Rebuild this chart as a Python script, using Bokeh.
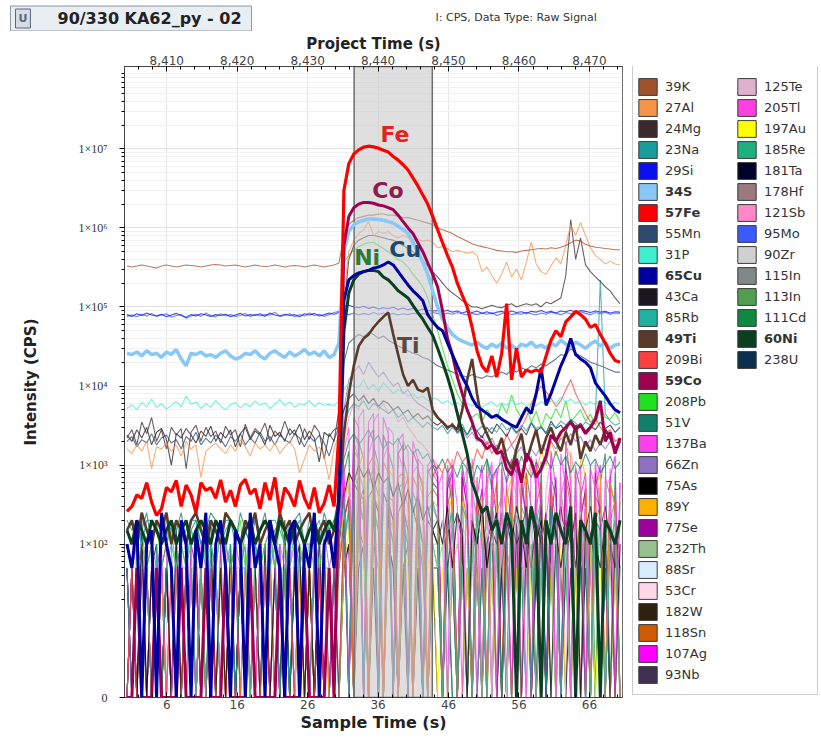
from bokeh.plotting import figure
from bokeh.layouts import column, row
from bokeh.models import (Range1d, LinearAxis, FixedTicker, NumeralTickFormatter,
                          Label, Legend, LegendItem)
from bokeh.embed import file_html
from bokeh.resources import INLINE

# ---------------- data ----------------
# acquisition times (s), one reading every 0.7 s
T = [round(0.35 + 0.7 * k, 2) for k in range(101)]
PROJECT_OFFSET = 8404.0          # project time at sample time 0
X_END = 70.7
SEL_START, SEL_END = 32.6, 43.7  # selected integration window
Y_MIN, Y_MAX = 1.15, 1.1e8

COL1 = ["39K", "27Al", "24Mg", "23Na", "29Si", "34S", "57Fe", "55Mn", "31P", "65Cu",
        "43Ca", "85Rb", "49Ti", "209Bi", "59Co", "208Pb", "51V", "137Ba", "66Zn", "75As",
        "89Y", "77Se", "232Th", "88Sr", "53Cr", "182W", "118Sn", "107Ag", "93Nb"]
COL2 = ["125Te", "205Tl", "197Au", "185Re", "181Ta", "178Hf", "121Sb", "95Mo", "90Zr",
        "115In", "113In", "111Cd", "60Ni", "238U"]
BOLD = ["34S", "57Fe", "65Cu", "49Ti", "59Co", "60Ni"]
Y_TICKS = [Y_MIN, 1e2, 1e3, 1e4, 1e5, 1e6, 1e7]
Y_TICK_LABELS = ["0", "1×10²", "1×10³", "1×10⁴", "1×10⁵", "1×10⁶", "1×10⁷"]
X_TICKS = [6, 16, 26, 36, 46, 56, 66]
TOP_TICKS = [8410, 8420, 8430, 8440, 8450, 8460, 8470]

K39 = [3.3e5, 3.2e5, 3.3e5, 3.4e5, 3.3e5, 3.2e5, 3.1e5, 3.3e5, 3.4e5, 3.3e5,
       3.2e5, 3.3e5, 3.4e5, 3.35e5, 3.3e5, 3.2e5, 3.3e5, 3.4e5, 3.45e5, 3.4e5,
       3.3e5, 3.35e5, 3.4e5, 3.3e5, 3.2e5, 3.3e5, 3.4e5, 3.3e5, 3.25e5, 3.3e5,
       3.4e5, 3.3e5, 3.2e5, 3.3e5, 3.35e5, 3.3e5, 3.2e5, 3.3e5, 3.4e5, 3.3e5,
       3.2e5, 3.3e5, 3.4e5,
       3.6e5, 8.0e5, 1.1e6, 1.25e6, 1.35e6, 1.4e6, 1.45e6, 1.45e6, 1.5e6, 1.5e6,
       1.45e6, 1.45e6, 1.4e6, 1.35e6, 1.35e6, 1.3e6, 1.25e6, 1.2e6, 1.15e6, 1.1e6,
       1.0e6, 9.5e5, 9.0e5, 8.5e5, 7.8e5, 7.3e5, 6.8e5, 6.3e5, 6.0e5, 5.8e5,
       5.6e5, 5.4e5, 5.2e5, 5.1e5, 5.0e5, 5.0e5, 4.9e5, 5.1e5, 5.2e5, 5.3e5,
       5.4e5, 5.5e5, 5.4e5, 5.6e5, 5.5e5, 5.7e5, 6.0e5, 6.5e5, 7.0e5, 6.8e5,
       6.2e5, 5.9e5, 5.7e5, 5.6e5, 5.5e5, 5.4e5, 5.3e5, 5.3e5]
AL27 = [1.6e3, 1.4e3, 1.8e3, 1.5e3, 2.0e3, 900, 1.7e3, 1.6e3, 1.9e3, 1.5e3,
        1.8e3, 1.3e3, 2.0e3, 1.6e3, 1.8e3, 700, 1.5e3, 1.7e3, 1.9e3, 1.6e3,
        1.4e3, 1.8e3, 1.5e3, 2.1e3, 1.7e3, 1.3e3, 1.9e3, 1.6e3, 1.8e3, 1.5e3,
        1.9e3, 1.4e3, 1.7e3, 2.0e3, 1.6e3, 800, 1.2e3, 1.8e3, 1.5e3, 1.7e3,
        1.3e3, 650, 1.6e3,
        2.5e3, 1.5e5, 5.0e5, 7.0e5, 8.5e5, 9.5e5, 1.2e6, 8.0e5, 9.0e5, 8.5e5,
        9.0e5, 8.0e5, 7.5e5, 8.0e5, 7.5e5, 7.0e5, 7.2e5, 6.8e5, 7.0e5, 6.6e5,
        5.6e5, 5.8e5, 5.5e5, 5.0e5, 5.2e5, 5.0e5, 4.8e5, 5.0e5, 4.5e5, 2.8e5,
        3.2e5, 2.5e5, 2.0e5, 2.6e5, 3.7e5, 2.4e5, 3.0e5, 2.2e5, 3.7e5, 6.6e5,
        3.5e5, 2.8e5, 2.6e5, 3.3e5, 4.2e5, 3.5e5, 6.0e5, 1.1e6, 8.0e5, 1.17e6,
        8.0e5, 5.6e5, 4.5e5, 4.0e5, 3.5e5, 3.8e5, 3.5e5, 3.4e5]
MG24 = [2.2e3, 2.8e3, 1.8e3, 3.5e3, 2.5e3, 4.0e3, 2.0e3, 2.8e3, 1.6e3, 3.0e3,
        2.4e3, 2.9e3, 900, 2.6e3, 3.2e3, 2.0e3, 3.0e3, 2.3e3, 2.7e3, 1.9e3,
        3.1e3, 2.4e3, 2.8e3, 1.7e3, 3.3e3, 2.2e3, 2.9e3, 2.5e3, 3.4e3, 2.0e3,
        2.7e3, 2.3e3, 3.6e3, 2.4e3, 2.8e3, 1.8e3, 2.9e3, 2.1e3, 3.2e3, 2.6e3,
        1.2e3, 2.5e3, 2.0e3,
        5.0e3, 1.0e5, 4.0e5, 6.0e5, 7.0e5, 7.5e5, 8.0e5, 8.0e5, 7.8e5, 7.5e5,
        7.2e5, 7.0e5, 6.5e5, 6.0e5, 5.5e5, 5.0e5, 4.4e5, 3.8e5, 3.3e5, 2.8e5,
        2.4e5, 2.0e5, 1.7e5, 1.5e5, 1.35e5, 1.2e5, 1.1e5, 1.0e5, 1.0e5, 9.5e4,
        1.0e5, 1.05e5, 1.0e5, 9.8e4, 1.05e5, 1.1e5, 1.0e5, 1.05e5, 1.1e5, 1.05e5,
        1.1e5, 1.0e5, 1.15e5, 1.1e5, 1.2e5, 1.3e5, 2.5e5, 1.27e6, 4.0e5, 7.5e5,
        3.4e5, 2.8e5, 2.4e5, 2.1e5, 1.8e5, 1.6e5, 1.3e5, 1.1e5]
NA23 = [200, 150, 200, 100, 200, 200, 150, 100, 200, 150,
        200, 100, 150, 200, 200, 100, 150, 200, 150, 100,
        200, 200, 150, 100, 200, 150, 200, 100, 150, 200,
        200, 150, 100, 200, 150, 200, 100, 200, 150, 200,
        100, 150, 200,
        400, 3.0e3, 5.0e3, 6.0e3, 5.5e3, 6.5e3, 5.0e3, 6.0e3, 5.5e3, 5.0e3,
        4.5e3, 5.0e3, 4.0e3, 4.5e3, 3.5e3, 4.0e3, 3.5e3, 3.0e3, 3.5e3, 3.0e3,
        2.8e3, 3.2e3, 2.5e3, 3.0e3, 2.6e3, 3.3e3, 2.4e3, 2.9e3, 2.7e3, 3.1e3,
        2.5e3, 3.0e3, 2.6e3, 3.4e3, 2.8e3, 3.0e3, 2.5e3, 3.2e3, 2.7e3, 3.5e3,
        2.9e3, 3.1e3, 2.6e3, 3.3e3, 3.0e3, 3.6e3, 3.2e3, 3.8e3, 3.4e3, 3.0e3,
        3.5e3, 3.2e3, 4.0e3, 2.2e5, 4.5e3, 3.6e3, 3.2e3, 3.4e3]
SI29 = [8.0e4, 7.6e4, 8.2e4, 7.8e4, 8.4e4, 7.9e4, 7.7e4, 8.1e4, 7.5e4, 7.9e4,
        8.3e4, 7.8e4, 7.4e4, 8.0e4, 7.7e4, 8.2e4, 7.9e4, 7.6e4, 8.0e4, 7.8e4,
        8.1e4, 7.5e4, 7.9e4, 8.3e4, 7.7e4, 8.0e4, 7.8e4, 8.2e4, 7.6e4, 8.4e4,
        7.9e4, 7.7e4, 8.1e4, 7.8e4, 8.0e4, 7.5e4, 8.2e4, 7.9e4, 8.3e4, 7.7e4,
        8.0e4, 8.4e4, 8.1e4,
        8.5e4, 1.0e5, 1.05e5, 1.0e5, 9.8e4, 1.02e5, 9.6e4, 1.0e5, 9.4e4, 9.8e4,
        9.5e4, 9.9e4, 9.3e4, 9.7e4, 9.2e4, 9.6e4, 9.0e4, 9.4e4, 9.1e4, 8.9e4,
        9.0e4, 8.7e4, 9.1e4, 8.6e4, 8.9e4, 8.4e4, 8.8e4, 8.5e4, 8.9e4, 8.3e4,
        8.7e4, 8.2e4, 8.6e4, 8.8e4, 8.4e4, 8.9e4, 8.5e4, 8.7e4, 8.3e4, 8.8e4,
        8.6e4, 9.0e4, 8.5e4, 8.8e4, 8.4e4, 8.9e4, 8.7e4, 9.1e4, 8.6e4, 9.0e4,
        8.8e4, 8.5e4, 8.9e4, 8.6e4, 8.8e4, 8.4e4, 8.7e4, 8.6e4]
S34 = [2.6e4, 2.5e4, 2.7e4, 2.4e4, 2.8e4, 2.5e4, 2.6e4, 2.3e4, 2.7e4, 2.5e4,
       2.9e4, 2.2e4, 1.8e4, 2.6e4, 2.5e4, 2.7e4, 2.4e4, 2.5e4, 2.3e4, 2.6e4,
       2.8e4, 2.4e4, 2.2e4, 2.3e4, 2.6e4, 2.5e4, 2.8e4, 2.4e4, 2.2e4, 2.6e4,
       2.8e4, 2.5e4, 2.3e4, 2.7e4, 2.4e4, 2.6e4, 2.9e4, 2.5e4, 2.7e4, 2.4e4,
       2.8e4, 2.3e4, 2.5e4,
       3.5e4, 5.0e5, 9.0e5, 1.1e6, 1.2e6, 1.25e6, 1.3e6, 1.3e6, 1.28e6, 1.25e6,
       1.2e6, 1.15e6, 1.05e6, 9.5e5, 8.5e5, 6.5e5, 5.0e5, 3.7e5, 2.6e5, 1.6e5,
       1.0e5, 7.0e4, 5.5e4, 4.5e4, 4.0e4, 3.7e4, 3.5e4, 3.3e4, 3.6e4, 3.2e4,
       3.0e4, 3.4e4, 3.1e4, 3.5e4, 3.0e4, 3.3e4, 2.9e4, 3.4e4, 3.2e4, 3.6e4,
       3.1e4, 3.3e4, 3.0e4, 3.5e4, 3.2e4, 3.8e4, 3.4e4, 3.1e4, 3.6e4, 3.3e4,
       3.0e4, 3.4e4, 3.7e4, 3.2e4, 3.5e4, 3.0e4, 3.3e4, 3.4e4]
FE57 = [260, 300, 420, 380, 600, 340, 230, 280, 520, 460,
        640, 300, 560, 420, 250, 600, 480, 520, 380, 650,
        340, 480, 300, 560, 660, 430, 500, 280, 600, 360,
        700, 250, 520, 420, 300, 640, 380, 280, 520, 250,
        330, 560, 300,
        2500, 3.0e6, 6.5e6, 8.6e6, 9.7e6, 1.05e7, 1.08e7, 1.06e7, 1.02e7, 9.6e6,
        9.1e6, 8.0e6, 7.2e6, 6.3e6, 5.4e6, 4.3e6, 3.4e6, 2.6e6, 2.0e6, 1.4e6,
        9.5e5, 6.5e5, 4.5e5, 3.2e5, 2.0e5, 1.4e5, 1.0e5, 5.5e4, 2.8e4, 1.8e4,
        1.5e4, 2.4e4, 1.3e4, 2.6e4, 1.1e5, 1.2e4, 3.0e4, 1.3e4, 1.6e4, 1.5e4,
        1.6e4, 1.5e4, 2.4e4, 3.8e4, 5.0e4, 4.2e4, 6.5e4, 7.5e4, 8.8e4, 8.0e4,
        7.0e4, 5.5e4, 6.0e4, 4.5e4, 3.5e4, 2.6e4, 2.1e4, 2.0e4]
MN55 = [2.0e3, 2.3e3, 1.7e3, 2.1e3, 1.9e3, 2.5e3, 1.8e3, 2.2e3, 2.4e3, 1.9e3,
        2.1e3, 1.6e3, 2.3e3, 2.0e3, 2.6e3, 1.8e3, 2.2e3, 1.9e3, 2.4e3, 2.1e3,
        1.7e3, 2.3e3, 2.0e3, 2.5e3, 1.8e3, 2.2e3, 1.9e3, 2.6e3, 2.0e3, 2.3e3,
        1.8e3, 2.4e3, 2.1e3, 1.9e3, 2.5e3, 2.2e3, 1.7e3, 2.3e3, 2.0e3, 2.4e3,
        1.9e3, 1.3e3, 2.1e3,
        3.0e3, 2.0e4, 3.5e4, 4.0e4, 4.5e4, 4.2e4, 4.8e4, 4.5e4, 4.0e4, 4.3e4,
        3.8e4, 3.5e4, 3.2e4, 3.0e4, 2.8e4, 2.6e4, 2.5e4, 2.3e4, 2.2e4, 2.0e4,
        1.8e4, 1.7e4, 1.6e4, 1.5e4, 1.4e4, 1.35e4, 1.3e4, 1.4e4, 1.3e4, 1.25e4,
        1.35e4, 1.3e4, 1.4e4, 1.5e4, 1.4e4, 1.6e4, 1.5e4, 1.7e4, 1.6e4, 1.8e4,
        1.7e4, 1.9e4, 1.8e4, 2.0e4, 2.2e4, 2.5e4, 2.4e4, 3.0e4, 2.6e4, 2.4e4,
        2.2e4, 2.0e4, 1.9e4, 1.8e4, 1.7e4, 1.6e4, 1.5e4, 1.5e4]
P31 = [5.2e3, 5.8e3, 5.0e3, 6.2e3, 5.5e3, 6.8e3, 5.4e3, 6.0e3, 5.1e3, 5.7e3,
       6.4e3, 5.5e3, 7.5e3, 5.9e3, 6.3e3, 5.2e3, 6.0e3, 5.4e3, 6.6e3, 5.6e3,
       5.0e3, 5.8e3, 6.2e3, 5.3e3, 6.0e3, 5.5e3, 6.5e3, 5.7e3, 6.1e3, 5.2e3,
       5.9e3, 6.8e3, 5.6e3, 6.3e3, 5.4e3, 6.0e3, 5.8e3, 6.6e3, 5.5e3, 6.1e3,
       5.7e3, 5.9e3, 5.6e3,
       6.5e3, 9.0e3, 1.1e4, 1.0e4, 9.5e3, 1.2e4, 9.0e3, 1.05e4, 8.5e3, 1.1e4,
       9.5e3, 8.0e3, 9.0e3, 8.5e3, 7.5e3, 8.0e3, 7.0e3, 7.5e3, 6.5e3, 7.0e3,
       6.8e3, 6.0e3, 6.5e3, 5.8e3, 6.2e3, 5.5e3, 6.0e3, 5.6e3, 6.3e3, 5.4e3,
       5.9e3, 6.4e3, 5.5e3, 6.1e3, 5.7e3, 6.6e3, 5.8e3, 6.2e3, 5.5e3, 6.0e3,
       5.6e3, 6.4e3, 5.9e3, 6.5e3, 6.0e3, 7.2e3, 6.3e3, 6.8e3, 6.0e3, 6.5e3,
       5.8e3, 6.3e3, 5.9e3, 6.6e3, 6.1e3, 5.7e3, 6.2e3, 5.9e3]
CU65 = [100, 50, 200, 0, 100, 150, 0, 250, 100, 50,
        0, 200, 100, 0, 150, 50, 250, 0, 100, 200,
        50, 0, 150, 100, 0, 250, 50, 100, 0, 200,
        100, 50, 0, 150, 200, 0, 100, 50, 250, 0,
        100, 150, 50,
        400, 1.2e5, 2.2e5, 2.5e5, 2.7e5, 2.8e5, 2.9e5, 3.1e5, 3.2e5, 3.4e5,
        3.7e5, 3.4e5, 2.8e5, 2.3e5, 1.9e5, 1.6e5, 1.4e5, 1.2e5, 8.0e4, 6.5e4,
        5.5e4, 5.0e4, 3.5e4, 2.5e4, 1.8e4, 1.3e4, 1.0e4, 7.0e3, 5.5e3, 5.0e3,
        4.5e3, 4.0e3, 4.3e3, 3.8e3, 3.5e3, 3.2e3, 3.0e3, 4.0e3, 5.3e3, 4.5e3,
        8.0e3, 1.7e4, 5.7e3, 8.0e3, 1.2e4, 1.8e4, 2.5e4, 4.0e4, 2.5e4, 2.2e4,
        2.0e4, 1.7e4, 1.1e4, 9.0e3, 7.5e3, 6.0e3, 5.0e3, 4.6e3]
CA43 = [2.4e3, 2.0e3, 2.8e3, 2.2e3, 3.0e3, 1.8e3, 2.6e3, 2.9e3, 2.1e3, 1.0e3,
        2.5e3, 2.2e3, 2.9e3, 2.4e3, 1.9e3, 2.7e3, 2.3e3, 3.1e3, 2.0e3, 2.6e3,
        2.2e3, 2.8e3, 1.7e3, 2.5e3, 3.0e3, 2.1e3, 2.7e3, 2.4e3, 1.8e3, 3.2e3,
        2.3e3, 2.6e3, 2.0e3, 2.9e3, 2.4e3, 3.3e3, 2.1e3, 2.7e3, 2.2e3, 1.1e3,
        2.6e3, 2.3e3, 2.8e3,
        3.0e3, 5.0e3, 7.0e3, 8.0e3, 6.5e3, 7.5e3, 6.0e3, 7.0e3, 5.5e3, 6.5e3,
        6.0e3, 5.0e3, 5.5e3, 4.5e3, 5.0e3, 4.0e3, 4.5e3, 3.8e3, 4.2e3, 3.5e3,
        3.2e3, 3.6e3, 2.8e3, 3.4e3, 2.6e3, 3.0e3, 2.4e3, 3.2e3, 2.7e3, 2.2e3,
        3.0e3, 2.5e3, 3.3e3, 2.8e3, 2.3e3, 3.1e3, 2.6e3, 2.9e3, 2.4e3, 3.4e3,
        2.7e3, 3.0e3, 2.5e3, 3.6e3, 2.9e3, 3.2e3, 2.6e3, 3.8e3, 3.0e3, 3.4e3,
        2.7e3, 3.1e3, 2.8e3, 3.5e3, 2.9e3, 3.2e3, 2.6e3, 3.0e3]
RB85 = [50, 0, 100, 50, 50, 0, 100, 0, 50, 100,
        0, 50, 50, 100, 0, 50, 0, 100, 50, 0,
        50, 100, 0, 50, 50, 0, 100, 50, 0, 50,
        100, 0, 50, 0, 100, 50, 50, 0, 100, 0,
        50, 50, 0,
        100, 400, 0, 800, 500, 0, 600, 900, 0, 600,
        700, 0, 500, 600, 0, 450, 300, 0, 250, 350,
        200, 0, 150, 250, 0, 300, 200, 0, 250, 100,
        0, 300, 150, 0, 100, 250, 0, 300, 200, 0,
        250, 150, 0, 300, 100, 0, 250, 150, 0, 200,
        100, 0, 200, 150, 0, 100, 200, 0]
TI49 = [150, 200, 100, 250, 150, 100, 200, 150, 250, 100,
        200, 150, 100, 200, 250, 150, 100, 200, 150, 100,
        250, 200, 150, 100, 200, 150, 250, 100, 150, 200,
        100, 250, 150, 200, 100, 150, 200, 250, 100, 150,
        200, 100, 150,
        400, 2.5e3, 8.0e3, 1.8e4, 3.2e4, 4.0e4, 4.5e4, 5.5e4, 6.5e4, 7.5e4,
        8.5e4, 4.5e4, 2.5e4, 1.4e4, 1.0e4, 1.2e4, 9.0e3, 8.5e3, 9.5e3, 5.0e3,
        4.0e3, 3.5e3, 3.0e3, 3.2e3, 2.8e3, 5.0e3, 1.2e4, 2.2e4, 8.0e3, 3.5e3,
        2.5e3, 1.8e3, 1.5e3, 2.2e3, 1.2e3, 900, 1.6e3, 2.5e3, 1.1e3, 1.8e3,
        2.8e3, 1.4e3, 2.2e3, 3.0e3, 2.0e3, 1.5e3, 2.6e3, 1.8e3, 3.2e3, 1.2e3,
        2.0e3, 1.5e3, 2.4e3, 1.8e3, 2.8e3, 2.2e3, 1.6e3, 2.0e3]
BI209 = [0, 50, 0, 0, 50, 0, 50, 0, 0, 50,
         0, 0, 50, 0, 50, 0, 0, 50, 0, 0,
         50, 0, 50, 0, 0, 50, 0, 0, 50, 0,
         0, 50, 0, 50, 0, 0, 50, 0, 0, 50,
         0, 50, 0,
         0, 200, 400, 0, 500, 350, 0, 400, 300, 0,
         400, 350, 0, 450, 700, 0, 800, 600, 0, 700,
         1.0e3, 800, 1.2e3, 900, 1.5e3, 1.1e3, 1.3e3, 900, 1.6e3, 1.2e3,
         2.0e3, 1.4e3, 1.8e3, 1.5e3, 2.5e3, 1.8e3, 2.2e3, 3.0e3, 4.0e3, 6.0e3,
         8.0e3, 1.0e4, 8.5e3, 7.0e3, 5.5e3, 6.5e3, 9.0e3, 1.2e4, 8.0e3, 6.0e3,
         4.5e3, 3.5e3, 4.0e3, 3.0e3, 2.5e3, 2.8e3, 2.0e3, 2.2e3]
CO59 = [0, 0, 50, 0, 0, 0, 50, 0, 0, 0,
        0, 50, 0, 0, 0, 0, 50, 0, 0, 0,
        50, 0, 0, 0, 0, 50, 0, 0, 0, 0,
        0, 50, 0, 0, 0, 0, 50, 0, 0, 0,
        0, 50, 0,
        800, 6.0e5, 1.4e6, 1.8e6, 2.0e6, 2.1e6, 2.1e6, 2.05e6, 1.95e6, 1.9e6,
        1.8e6, 1.7e6, 1.45e6, 1.2e6, 1.0e6, 8.5e5, 6.5e5, 5.0e5, 3.6e5, 2.6e5,
        1.8e5, 9.0e4, 4.0e4, 2.5e4, 1.3e4, 8.0e3, 5.0e3, 3.5e3, 2.2e3, 2.0e3,
        1.6e3, 1.8e3, 1.4e3, 1.5e3, 900, 750, 1.2e3, 600, 1.4e3, 1.1e3,
        700, 900, 1.3e3, 2.4e3, 2.0e3, 2.6e3, 3.0e3, 3.5e3, 2.8e3, 3.2e3,
        2.5e3, 3.0e3, 3.8e3, 6.5e3, 2.0e3, 2.6e3, 1.4e3, 2.2e3]
PB208 = [100, 50, 150, 100, 50, 100, 200, 50, 100, 150,
         50, 100, 50, 150, 100, 200, 50, 100, 50, 150,
         100, 50, 100, 200, 50, 150, 100, 50, 100, 150,
         50, 200, 100, 50, 150, 100, 50, 100, 150, 50,
         100, 200, 50,
         500, 3.7e5, 4.5e5, 5.2e5, 5.8e5, 6.2e5, 6.5e5, 6.6e5, 6.0e5, 5.5e5,
         5.0e5, 4.5e5, 4.0e5, 3.7e5, 3.2e5, 2.6e5, 2.2e5, 1.8e5, 1.3e5, 8.0e4,
         5.0e4, 3.0e4, 1.8e4, 1.2e4, 8.0e3, 6.0e3, 5.0e3, 4.0e3, 4.5e3, 3.5e3,
         5.0e3, 4.2e3, 3.8e3, 6.0e3, 4.5e3, 7.7e3, 5.0e3, 4.0e3, 5.5e3, 3.5e3,
         4.8e3, 3.0e3, 4.5e3, 3.8e3, 5.2e3, 4.0e3, 6.5e3, 3.5e3, 4.2e3, 5.0e3,
         3.6e3, 4.4e3, 3.2e3, 5.5e3, 4.0e3, 3.8e3, 4.6e3, 3.5e3]
V51 = [150, 200, 100, 150, 250, 100, 200, 150, 100, 200,
       150, 250, 100, 150, 200, 100, 150, 250, 200, 100,
       150, 200, 100, 250, 150, 100, 200, 150, 250, 100,
       150, 200, 100, 150, 200, 250, 100, 150, 200, 100,
       250, 150, 200,
       300, 1.2e3, 2.0e3, 2.5e3, 1.8e3, 2.2e3, 2.8e3, 2.0e3, 2.4e3, 1.6e3,
       2.0e3, 1.8e3, 2.2e3, 1.5e3, 1.8e3, 1.4e3, 1.6e3, 1.2e3, 1.4e3, 1.0e3,
       900, 1.2e3, 800, 1.0e3, 700, 1.1e3, 900, 600, 1.0e3, 800,
       1.2e3, 700, 900, 1.1e3, 600, 1.0e3, 800, 1.3e3, 900, 700,
       1.1e3, 800, 1.2e3, 900, 1.5e3, 1.0e3, 1.3e3, 800, 1.1e3, 900,
       1.4e3, 1.0e3, 1.2e3, 800, 1.0e3, 1.3e3, 900, 1.1e3]
BA137 = [0, 50, 100, 0, 50, 0, 50, 100, 0, 0,
         50, 100, 0, 50, 0, 100, 50, 0, 50, 0,
         100, 0, 50, 50, 0, 100, 0, 50, 0, 100,
         50, 0, 0, 50, 100, 0, 50, 0, 100, 50,
         0, 50, 0,
         100, 800, 0, 2.0e3, 1.2e3, 0, 1.4e3, 2.2e3, 0, 1.2e3,
         1.8e3, 0, 1.4e3, 900, 0, 800, 1.0e3, 0, 900, 600,
         500, 800, 0, 1.0e3, 300, 0, 1.2e3, 500, 0, 300,
         600, 1.1e3, 0, 800, 200, 0, 1.0e3, 300, 0, 1.3e3,
         500, 0, 200, 700, 0, 400, 800, 0, 600, 1.0e3,
         0, 900, 500, 0, 700, 400, 0, 600]
ZN66 = [100, 50, 100, 150, 50, 100, 50, 100, 150, 100,
        50, 100, 50, 150, 100, 50, 100, 100, 50, 150,
        100, 50, 100, 50, 150, 100, 100, 50, 100, 150,
        50, 100, 50, 100, 150, 50, 100, 100, 50, 100,
        150, 50, 100,
        300, 5.0e3, 1.2e4, 1.5e4, 1.8e4, 1.4e4, 2.0e4, 1.6e4, 1.3e4, 1.5e4,
        1.2e4, 1.0e4, 1.1e4, 8.0e3, 9.0e3, 7.0e3, 6.0e3, 5.5e3, 5.0e3, 4.5e3,
        4.0e3, 3.5e3, 3.0e3, 3.2e3, 2.5e3, 2.8e3, 2.2e3, 2.6e3, 2.0e3, 2.4e3,
        1.8e3, 2.2e3, 1.6e3, 2.0e3, 1.5e3, 1.8e3, 1.4e3, 1.7e3, 1.2e3, 1.6e3,
        1.3e3, 1.8e3, 1.5e3, 2.0e3, 1.6e3, 2.2e3, 1.8e3, 2.5e3, 2.0e3, 2.3e3,
        1.7e3, 2.1e3, 1.5e3, 1.9e3, 1.6e3, 2.0e3, 1.4e3, 1.8e3]
AS75 = [0, 50, 0, 200, 0, 50, 100, 0, 50, 0,
        150, 0, 50, 0, 100, 0, 50, 200, 0, 50,
        0, 100, 0, 50, 0, 150, 50, 0, 100, 0,
        50, 0, 200, 0, 50, 100, 0, 50, 0, 150,
        0, 50, 0,
        100, 400, 800, 600, 1.0e3, 700, 900, 500, 800, 600,
        700, 400, 600, 300, 500, 250, 400, 200, 300, 150,
        200, 100, 300, 50, 250, 150, 0, 200, 100, 300,
        50, 150, 250, 0, 200, 100, 300, 150, 50, 250,
        100, 200, 0, 300, 150, 50, 200, 100, 250, 0,
        150, 300, 100, 50, 200, 150, 0, 100]
Y89 = [0, 0, 50, 0, 50, 0, 0, 50, 0, 0,
       50, 0, 0, 50, 0, 50, 0, 0, 0, 50,
       0, 50, 0, 0, 50, 0, 0, 50, 0, 50,
       0, 0, 50, 0, 0, 50, 0, 50, 0, 0,
       50, 0, 0,
       50, 300, 800, 0, 900, 1.5e3, 0, 1.3e3, 800, 0,
       900, 700, 0, 600, 800, 0, 700, 400, 0, 350,
       300, 0, 250, 400, 0, 350, 150, 0, 250, 400,
       0, 500, 300, 0, 400, 700, 0, 900, 600, 1.2e3,
       800, 1.5e3, 1.0e3, 2.0e3, 1.3e3, 2.5e3, 1.8e3, 1.2e3, 0, 1.4e3,
       700, 0, 500, 800, 0, 600, 300, 0]
SE77 = [50, 0, 0, 100, 0, 50, 0, 50, 100, 0,
        0, 50, 0, 100, 50, 0, 0, 50, 0, 100,
        0, 50, 100, 0, 0, 50, 0, 100, 0, 50,
        0, 100, 0, 50, 0, 0, 100, 0, 50, 0,
        100, 0, 50,
        100, 600, 0, 2.5e3, 2.0e3, 0, 2.2e3, 2.8e3, 0, 2.4e3,
        1.6e3, 0, 1.4e3, 1.8e3, 0, 1.5e3, 1.0e3, 0, 800, 1.0e3,
        700, 0, 500, 800, 0, 700, 300, 0, 200, 500,
        0, 700, 200, 0, 100, 500, 0, 600, 200, 0,
        100, 300, 0, 200, 700, 0, 900, 400, 0, 200,
        500, 0, 800, 200, 0, 600, 300, 0]
TH232 = [0, 50, 0, 0, 0, 50, 0, 0, 50, 0,
         0, 0, 50, 0, 0, 50, 0, 0, 0, 50,
         0, 0, 50, 0, 0, 0, 50, 0, 0, 50,
         0, 0, 0, 50, 0, 0, 50, 0, 0, 0,
         50, 0, 0,
         0, 100, 200, 0, 250, 200, 0, 150, 200, 0,
         150, 200, 0, 150, 200, 0, 150, 100, 0, 100,
         50, 100, 0, 50, 100, 50, 0, 100, 50, 0,
         50, 100, 50, 0, 50, 100, 0, 50, 50, 100,
         0, 50, 100, 50, 0, 50, 100, 0, 50, 50,
         100, 0, 50, 0, 100, 50, 0, 50]
SR88 = [50, 50, 50, 50, 0, 50, 50, 50, 50, 50,
        50, 50, 0, 50, 50, 50, 50, 50, 50, 0,
        50, 50, 50, 50, 50, 50, 50, 0, 50, 50,
        50, 50, 50, 50, 0, 50, 50, 50, 50, 50,
        50, 0, 50,
        100, 300, 600, 800, 700, 900, 600, 800, 500, 700,
        600, 500, 400, 500, 350, 400, 300, 350, 250, 300,
        250, 200, 0, 200, 150, 250, 0, 300, 150, 200,
        0, 150, 200, 300, 0, 150, 250, 200, 0, 200,
        150, 0, 200, 150, 300, 0, 250, 150, 0, 250,
        300, 0, 150, 250, 0, 300, 200, 0]
CR53 = [100, 100, 50, 100, 100, 100, 100, 50, 100, 100,
        100, 100, 100, 50, 100, 100, 100, 100, 100, 100,
        50, 100, 100, 100, 100, 50, 100, 100, 100, 100,
        100, 50, 100, 100, 100, 100, 100, 50, 100, 100,
        100, 100, 100,
        150, 300, 400, 350, 500, 400, 450, 350, 400, 300,
        350, 300, 250, 300, 250, 200, 250, 200, 150, 200,
        150, 100, 150, 200, 100, 150, 100, 200, 150, 100,
        150, 100, 200, 150, 100, 150, 200, 100, 150, 100,
        200, 150, 100, 150, 100, 200, 150, 100, 150, 200,
        100, 150, 100, 200, 150, 100, 150, 100]
W182 = [50, 0, 0, 50, 0, 0, 50, 0, 50, 0,
        0, 50, 0, 0, 50, 0, 50, 0, 0, 0,
        50, 0, 0, 50, 0, 50, 0, 0, 50, 0,
        0, 50, 0, 0, 50, 0, 0, 50, 0, 50,
        0, 0, 50,
        50, 200, 0, 600, 450, 0, 400, 500, 0, 450,
        300, 0, 250, 350, 0, 300, 150, 0, 200, 150,
        100, 200, 50, 150, 250, 100, 0, 200, 100, 300,
        50, 150, 100, 250, 0, 200, 100, 150, 300, 50,
        200, 100, 250, 0, 150, 300, 100, 200, 50, 250,
        100, 0, 200, 150, 300, 100, 50, 200]
SN118 = [0, 0, 50, 0, 0, 50, 0, 50, 0, 0,
         0, 50, 0, 0, 50, 0, 0, 50, 0, 50,
         0, 0, 50, 0, 0, 0, 50, 0, 50, 0,
         0, 50, 0, 0, 0, 50, 0, 50, 0, 0,
         0, 50, 0,
         100, 500, 0, 1.5e3, 1.2e3, 0, 1.0e3, 1.3e3, 0, 1.1e3,
         800, 0, 700, 800, 0, 700, 500, 0, 400, 500,
         400, 0, 300, 600, 0, 450, 200, 0, 350, 150,
         0, 250, 600, 0, 500, 200, 0, 350, 800, 0,
         300, 600, 0, 500, 200, 0, 700, 300, 0, 250,
         450, 0, 400, 300, 0, 200, 350, 0]
AG107 = [0, 50, 0, 0, 0, 50, 0, 0, 50, 0,
         50, 0, 0, 0, 50, 0, 0, 50, 0, 0,
         0, 50, 0, 50, 0, 0, 0, 50, 0, 0,
         50, 0, 0, 50, 0, 0, 0, 50, 0, 50,
         0, 0, 50,
         100, 1.0e3, 0, 4.0e3, 3.0e3, 0, 3.5e3, 4.5e3, 0, 4.0e3,
         2.5e3, 0, 2.0e3, 2.5e3, 0, 2.0e3, 1.2e3, 0, 1.0e3, 1.2e3,
         800, 0, 600, 900, 0, 800, 300, 0, 400, 1.0e3,
         0, 600, 900, 0, 700, 1.2e3, 0, 800, 200, 0,
         1.0e3, 300, 0, 1.5e3, 500, 0, 2.0e3, 600, 0, 400,
         800, 0, 500, 1.0e3, 0, 700, 1.3e3, 0]
NB93 = [0, 50, 0, 50, 0, 0, 50, 0, 50, 0,
        50, 0, 0, 50, 0, 50, 0, 0, 50, 0,
        0, 50, 0, 50, 0, 0, 50, 0, 0, 50,
        0, 50, 0, 0, 50, 0, 50, 0, 0, 50,
        0, 0, 50,
        0, 200, 400, 0, 300, 500, 0, 400, 250, 0,
        350, 200, 0, 300, 150, 0, 250, 100, 0, 150,
        100, 0, 200, 50, 0, 150, 0, 250, 50, 0,
        100, 200, 0, 50, 150, 0, 200, 0, 100, 50,
        0, 250, 0, 100, 150, 0, 50, 200, 0, 100,
        0, 150, 50, 0, 200, 0, 100, 50]
TE125 = [50, 0, 0, 50, 0, 50, 0, 0, 0, 50,
         0, 50, 0, 0, 50, 0, 0, 50, 0, 50,
         0, 0, 50, 0, 0, 50, 0, 50, 0, 0,
         50, 0, 0, 50, 0, 0, 50, 0, 50, 0,
         0, 50, 0,
         50, 300, 600, 0, 800, 500, 0, 1.0e3, 600, 0,
         700, 400, 0, 500, 300, 0, 400, 200, 0, 300,
         200, 0, 400, 100, 0, 300, 0, 500, 150, 0,
         250, 0, 400, 100, 0, 350, 200, 0, 450, 0,
         150, 300, 0, 200, 0, 500, 100, 0, 300, 0,
         250, 0, 400, 150, 0, 300, 0, 200]
TL205 = [0, 0, 50, 0, 50, 0, 0, 50, 0, 0,
         50, 0, 50, 0, 0, 0, 50, 0, 0, 50,
         0, 50, 0, 0, 50, 0, 0, 0, 50, 0,
         50, 0, 0, 50, 0, 50, 0, 0, 0, 50,
         0, 50, 0,
         100, 1.5e3, 3.0e3, 0, 4.0e3, 5.0e3, 0, 3.5e3, 4.5e3, 0,
         3.0e3, 2.5e3, 0, 2.0e3, 1.5e3, 0, 1.2e3, 1.0e3, 0, 800,
         600, 0, 1.0e3, 400, 0, 800, 0, 1.2e3, 300, 0,
         900, 0, 700, 1.5e3, 0, 500, 1.0e3, 0, 600, 0,
         1.2e3, 400, 0, 800, 0, 1.4e3, 500, 0, 1.0e3, 0,
         700, 0, 1.1e3, 300, 0, 900, 0, 600]
AU197 = [0, 0, 0, 50, 0, 0, 50, 0, 0, 0,
         50, 0, 0, 0, 50, 0, 0, 0, 50, 0,
         0, 0, 50, 0, 0, 50, 0, 0, 0, 50,
         0, 0, 0, 50, 0, 0, 0, 50, 0, 0,
         50, 0, 0,
         0, 50, 150, 0, 200, 100, 0, 150, 50, 0,
         100, 200, 0, 100, 50, 0, 150, 0, 50, 100,
         0, 50, 0, 100, 0, 0, 50, 0, 100, 0,
         0, 50, 0, 0, 100, 0, 50, 0, 0, 50,
         100, 0, 0, 50, 0, 100, 0, 0, 50, 0,
         0, 100, 0, 50, 0, 0, 50, 0]
RE185 = [0, 50, 0, 0, 0, 50, 0, 50, 0, 0,
         0, 0, 50, 0, 50, 0, 0, 0, 50, 0,
         50, 0, 0, 0, 50, 0, 50, 0, 0, 0,
         0, 50, 0, 50, 0, 0, 0, 50, 0, 0,
         50, 0, 50,
         0, 100, 300, 0, 400, 200, 0, 300, 150, 0,
         250, 100, 0, 200, 100, 0, 150, 50, 0, 100,
         50, 0, 100, 0, 0, 50, 0, 100, 0, 50,
         0, 0, 100, 0, 50, 0, 0, 50, 0, 100,
         0, 50, 0, 0, 100, 0, 50, 0, 0, 50,
         0, 100, 0, 0, 50, 0, 0, 50]
TA181 = [50, 0, 0, 0, 50, 0, 0, 0, 50, 0,
         0, 50, 0, 0, 0, 50, 0, 0, 0, 0,
         50, 0, 0, 50, 0, 0, 0, 50, 0, 0,
         0, 0, 50, 0, 0, 50, 0, 0, 0, 50,
         0, 0, 0,
         0, 50, 100, 0, 50, 100, 0, 50, 0, 0,
         100, 50, 0, 50, 0, 0, 50, 0, 0, 50,
         0, 0, 50, 0, 0, 0, 50, 0, 0, 50,
         0, 0, 0, 50, 0, 0, 50, 0, 0, 0,
         50, 0, 0, 50, 0, 0, 0, 50, 0, 0,
         50, 0, 0, 0, 50, 0, 0, 0]
HF178 = [0, 0, 50, 0, 0, 0, 0, 50, 0, 50,
         0, 0, 0, 50, 0, 0, 0, 50, 0, 0,
         0, 50, 0, 0, 0, 0, 50, 0, 0, 50,
         0, 0, 0, 0, 50, 0, 0, 50, 0, 0,
         0, 50, 0,
         0, 100, 250, 0, 300, 200, 0, 250, 150, 0,
         200, 100, 0, 150, 100, 0, 100, 50, 0, 50,
         50, 0, 0, 100, 0, 50, 0, 0, 50, 0,
         100, 0, 0, 50, 0, 0, 100, 0, 50, 0,
         0, 50, 0, 100, 0, 0, 50, 0, 0, 100,
         0, 50, 0, 0, 50, 0, 100, 0]
SB121 = [0, 50, 0, 50, 0, 0, 50, 0, 0, 50,
         0, 0, 50, 0, 0, 50, 0, 50, 0, 0,
         50, 0, 0, 50, 0, 50, 0, 0, 50, 0,
         0, 50, 0, 0, 50, 0, 0, 50, 0, 50,
         0, 0, 50,
         100, 2.0e3, 4.0e3, 6.0e3, 5.0e3, 8.0e3, 6.0e3, 7.0e3, 5.0e3, 6.0e3,
         4.5e3, 5.0e3, 3.5e3, 4.0e3, 3.0e3, 2.5e3, 2.0e3, 1.8e3, 1.5e3, 1.2e3,
         1.0e3, 0, 800, 1.2e3, 0, 600, 900, 0, 700, 0,
         500, 1.0e3, 0, 600, 0, 800, 400, 0, 700, 0,
         900, 0, 500, 1.2e3, 0, 700, 0, 1.5e3, 600, 0,
         800, 0, 1.0e3, 0, 500, 700, 0, 600]
MO95 = [7.6e4, 7.9e4, 7.5e4, 8.1e4, 7.7e4, 8.3e4, 7.6e4, 7.9e4, 8.2e4, 7.4e4,
        7.8e4, 8.0e4, 7.2e4, 7.7e4, 8.1e4, 7.6e4, 8.4e4, 7.8e4, 7.5e4, 8.2e4,
        7.7e4, 8.0e4, 7.6e4, 7.8e4, 8.3e4, 7.5e4, 8.1e4, 7.7e4, 8.0e4, 7.9e4,
        8.6e4, 7.6e4, 7.8e4, 8.2e4, 7.5e4, 8.0e4, 7.7e4, 8.4e4, 7.8e4, 8.1e4,
        7.6e4, 8.0e4, 8.5e4,
        8.8e4, 8.2e4, 8.0e4, 8.4e4, 7.9e4, 8.3e4, 8.0e4, 8.5e4, 8.1e4, 8.4e4,
        8.0e4, 8.3e4, 7.9e4, 8.2e4, 8.0e4, 8.4e4, 8.1e4, 8.3e4, 8.0e4, 8.5e4,
        8.3e4, 8.0e4, 8.4e4, 8.1e4, 8.5e4, 8.2e4, 7.9e4, 8.3e4, 8.0e4, 8.4e4,
        8.1e4, 8.5e4, 7.8e4, 8.2e4, 8.6e4, 8.0e4, 8.3e4, 8.1e4, 8.5e4, 8.2e4,
        7.9e4, 8.4e4, 8.1e4, 8.6e4, 8.3e4, 8.0e4, 8.5e4, 8.2e4, 8.4e4, 8.7e4,
        8.3e4, 8.0e4, 8.5e4, 8.2e4, 8.6e4, 8.1e4, 8.4e4, 8.3e4]
ZR90 = [50, 0, 50, 50, 0, 50, 0, 50, 50, 0,
        50, 0, 50, 0, 50, 50, 0, 50, 0, 50,
        0, 50, 50, 0, 50, 0, 50, 0, 50, 50,
        0, 50, 0, 50, 50, 0, 50, 0, 50, 0,
        50, 50, 0,
        50, 150, 250, 0, 300, 200, 0, 250, 150, 0,
        200, 150, 0, 150, 100, 0, 150, 100, 0, 100,
        100, 0, 150, 50, 0, 100, 200, 0, 50, 150,
        0, 100, 50, 0, 200, 100, 0, 150, 50, 0,
        100, 200, 0, 50, 150, 0, 100, 0, 200, 50,
        0, 150, 100, 0, 50, 200, 0, 100]
IN115 = [0, 50, 0, 0, 50, 0, 50, 0, 0, 0,
         50, 0, 50, 0, 0, 50, 0, 0, 50, 0,
         0, 0, 50, 0, 50, 0, 0, 50, 0, 0,
         50, 0, 0, 0, 50, 0, 50, 0, 0, 50,
         0, 0, 50,
         0, 200, 400, 0, 300, 350, 0, 400, 250, 0,
         300, 200, 0, 250, 150, 0, 200, 100, 0, 150,
         100, 0, 200, 50, 0, 150, 0, 100, 200, 0,
         50, 150, 0, 100, 0, 200, 50, 0, 150, 100,
         0, 200, 0, 50, 150, 0, 100, 200, 0, 50,
         150, 0, 100, 0, 200, 0, 150, 50]
IN113 = [0, 0, 50, 0, 50, 0, 0, 50, 0, 50,
         0, 0, 0, 50, 0, 0, 50, 0, 50, 0,
         0, 50, 0, 0, 0, 50, 0, 50, 0, 0,
         50, 0, 50, 0, 0, 0, 50, 0, 0, 50,
         0, 50, 0,
         50, 300, 600, 0, 800, 500, 0, 700, 400, 0,
         600, 400, 0, 500, 300, 0, 400, 250, 0, 300,
         200, 0, 400, 150, 0, 300, 0, 500, 200, 0,
         350, 0, 250, 400, 0, 150, 300, 0, 450, 0,
         200, 350, 0, 250, 0, 500, 150, 0, 300, 0,
         400, 0, 200, 300, 0, 250, 0, 350]
CD111 = [50, 0, 0, 100, 0, 50, 0, 0, 50, 0,
         100, 0, 50, 0, 0, 50, 0, 100, 0, 0,
         50, 0, 0, 50, 100, 0, 0, 50, 0, 100,
         0, 0, 50, 0, 0, 100, 0, 50, 0, 0,
         100, 0, 50,
         100, 800, 1.5e3, 0, 2.0e3, 1.2e3, 0, 1.8e3, 1.0e3, 0,
         1.5e3, 900, 0, 1.2e3, 700, 0, 900, 500, 0, 600,
         500, 0, 800, 300, 0, 1.0e3, 400, 0, 700, 0,
         1.2e3, 500, 0, 900, 0, 600, 1.5e3, 0, 800, 300,
         0, 1.1e3, 0, 700, 400, 0, 1.3e3, 0, 900, 500,
         0, 1.0e3, 0, 600, 1.4e3, 0, 800, 0]
NI60 = [150, 100, 200, 150, 100, 200, 150, 100, 150, 200,
        100, 150, 200, 100, 150, 200, 150, 100, 200, 150,
        100, 200, 150, 100, 150, 200, 100, 150, 200, 150,
        100, 200, 150, 100, 200, 150, 100, 150, 200, 100,
        150, 200, 150,
        300, 5.0e4, 1.5e5, 2.2e5, 2.6e5, 2.8e5, 2.9e5, 2.9e5, 2.8e5, 2.4e5,
        2.2e5, 1.9e5, 1.6e5, 1.45e5, 1.3e5, 1.05e5, 8.5e4, 7.0e4, 5.5e4, 4.4e4,
        3.0e4, 2.0e4, 1.3e4, 8.0e3, 4.5e3, 2.5e3, 1.4e3, 600, 400, 250,
        300, 150, 200, 100, 250, 150, 0, 200, 100, 300,
        150, 0, 200, 100, 250, 150, 100, 300, 0, 200,
        150, 100, 250, 0, 200, 150, 100, 200]
U238 = [0, 50, 0, 0, 0, 50, 0, 0, 50, 0,
        0, 0, 50, 0, 0, 0, 50, 0, 50, 0,
        0, 0, 0, 50, 0, 0, 50, 0, 0, 0,
        50, 0, 0, 50, 0, 0, 0, 0, 50, 0,
        0, 50, 0,
        0, 50, 100, 0, 150, 100, 0, 100, 50, 0,
        100, 50, 0, 50, 100, 0, 50, 0, 0, 50,
        50, 0, 0, 50, 0, 100, 0, 0, 50, 0,
        0, 50, 0, 0, 100, 0, 0, 50, 0, 0,
        50, 0, 100, 0, 0, 50, 0, 0, 50, 0,
        0, 100, 0, 0, 50, 0, 50, 0]

SERIES = {
    "39K": K39, "27Al": AL27, "24Mg": MG24, "23Na": NA23, "29Si": SI29, "34S": S34,
    "57Fe": FE57, "55Mn": MN55, "31P": P31, "65Cu": CU65, "43Ca": CA43, "85Rb": RB85,
    "49Ti": TI49, "209Bi": BI209, "59Co": CO59, "208Pb": PB208, "51V": V51,
    "137Ba": BA137, "66Zn": ZN66, "75As": AS75, "89Y": Y89, "77Se": SE77,
    "232Th": TH232, "88Sr": SR88, "53Cr": CR53, "182W": W182, "118Sn": SN118,
    "107Ag": AG107, "93Nb": NB93, "125Te": TE125, "205Tl": TL205, "197Au": AU197,
    "185Re": RE185, "181Ta": TA181, "178Hf": HF178, "121Sb": SB121, "95Mo": MO95,
    "90Zr": ZR90, "115In": IN115, "113In": IN113, "111Cd": CD111, "60Ni": NI60,
    "238U": U238,
}

# ---------------- styles ----------------
COLORS = {
    "39K": "#a0522d", "27Al": "#f7944a", "24Mg": "#3c2a2a", "23Na": "#1a9c9c",
    "29Si": "#0a10f0", "34S": "#87c8f8", "57Fe": "#ff0000", "55Mn": "#2e4a70",
    "31P": "#3ef0d0", "65Cu": "#0000a0", "43Ca": "#1a1620", "85Rb": "#20b2a0",
    "49Ti": "#5a3a2a", "209Bi": "#ff4040", "59Co": "#a00050", "208Pb": "#20e020",
    "51V": "#10806a", "137Ba": "#ff40f0", "66Zn": "#9070c0", "75As": "#000000",
    "89Y": "#ffb000", "77Se": "#a000a0", "232Th": "#98c090", "88Sr": "#d8ecff",
    "53Cr": "#ffd8e8", "182W": "#302010", "118Sn": "#d05a00", "107Ag": "#ff00ff",
    "93Nb": "#403050", "125Te": "#e0b0d0", "205Tl": "#ff40e0", "197Au": "#ffff00",
    "185Re": "#20b080", "181Ta": "#000028", "178Hf": "#9a7a80", "121Sb": "#ff88c8",
    "95Mo": "#3a5cff", "90Zr": "#d0d0d0", "115In": "#808888", "113In": "#50a050",
    "111Cd": "#108840", "60Ni": "#0a4020", "238U": "#0a3050",
}
BOLD_WIDTH = {"34S": 3.5, "57Fe": 3.2, "65Cu": 3.0, "49Ti": 2.6, "59Co": 3.0, "60Ni": 3.0}
BOLD_ORDER = ["34S", "49Ti", "60Ni", "59Co", "65Cu", "57Fe"]
PEAK_LABELS = [("Fe", 38.4, 1.5e7, "#e42222"), ("Co", 37.4, 3.0e6, "#8b1c4c"),
               ("Ni", 34.45, 4.2e5, "#2a7a3a"), ("Cu", 39.85, 5.4e5, "#1a4a70"),
               ("Ti", 40.3, 3.3e4, "#5a4a40")]

FONT = "DejaVu Sans"
HEADER_H = 31
BODY_H = 738 - HEADER_H
MAIN_W, LEG_W = 624, 197
FRAME_BOTTOM_PAGE = 697   # bottom of the chart frame on the page
NAN = float("nan")


def bare(width, height):
    f = figure(width=width, height=height, x_range=Range1d(0, width), y_range=Range1d(height, 0),
               output_backend="svg", toolbar_location=None, min_border=0,
               x_axis_location=None, y_axis_location=None)
    f.outline_line_color = None
    f.grid.visible = False
    return f


# ---------------- header strip ----------------
header = bare(821, HEADER_H)
header.add_layout(Label(x=10, y=18, text="90/330 KA62_py - 02", text_font=FONT,
                        text_font_style="bold", text_font_size="16px", text_color="#222222",
                        text_baseline="middle", text_align="left",
                        background_fill_color="#e9eef3", border_line_color="#8a96a4",
                        padding=dict(left=47, right=10, top=3, bottom=3)))
header.add_layout(Label(x=15, y=18, text="U", text_font=FONT, text_font_style="bold",
                        text_font_size="11px", text_color="#5a6878", text_baseline="middle",
                        text_align="left", background_fill_color="#d5dce5",
                        border_line_color="#5a6878", padding=3))
header.add_layout(Label(x=435, y=17, text="I: CPS, Data Type: Raw Signal", text_font=FONT,
                        text_font_size="11px", text_color="#333333", text_baseline="middle",
                        text_align="left"))

# ---------------- main chart ----------------
p = figure(width=MAIN_W, height=BODY_H, x_range=Range1d(0, X_END), y_range=Range1d(Y_MIN, Y_MAX),
           y_axis_type="log", output_backend="svg", toolbar_location=None,
           min_border_left=124, min_border_right=2, min_border_top=34, min_border_bottom=41,
           background_fill_color="white", border_fill_color="white")
p.outline_line_color = "#6a6a6a"


def disp(vals):
    return [max(v, Y_MIN) for v in vals]


def draw(name, width, alpha):
    vals = SERIES[name]
    n = min(len(T), len(vals))
    p.line(T[:n], disp(vals[:n]), line_color=COLORS[name], line_width=width, line_alpha=alpha)


# earlier legend entries end up on top
for name in reversed(COL1 + COL2):
    if name not in BOLD:
        draw(name, 1.1, 0.75)

# selected time window
p.quad(left=[SEL_START], right=[SEL_END], bottom=[Y_MIN], top=[Y_MAX],
       fill_color="#c4c4c4", fill_alpha=0.55, line_color="#6e6e6e", line_width=1.5)

for name in BOLD_ORDER:
    draw(name, BOLD_WIDTH[name], 1.0)

for txt, x, y, c in PEAK_LABELS:
    p.add_layout(Label(x=x, y=y, text=txt, text_color=c, text_font=FONT,
                       text_font_style="bold", text_font_size="22px",
                       text_align="center", text_baseline="middle"))

yax = p.left[0]
yax.ticker = FixedTicker(ticks=Y_TICKS,
                         minor_ticks=[m * 10 ** d for d in range(1, 8) for m in range(2, 10)])
yax.major_label_overrides = {t: s for t, s in zip(Y_TICKS, Y_TICK_LABELS)}
yax.major_label_text_font = "Liberation Serif"
yax.major_label_text_font_size = "12px"
yax.major_label_text_color = "#333333"
yax.major_tick_in, yax.major_tick_out = 0, 5
yax.minor_tick_in, yax.minor_tick_out = 0, 3
yax.major_label_standoff = 12
yax.axis_label = "Intensity (CPS)"
yax.axis_label_text_font = FONT
yax.axis_label_text_font_style = "bold"
yax.axis_label_text_font_size = "15px"
yax.axis_label_text_color = "#222222"
yax.axis_label_standoff = 36
yax.axis_line_color = "#444444"

xax = p.below[0]
xax.ticker = FixedTicker(ticks=X_TICKS, minor_ticks=list(range(0, 71, 2)))
xax.axis_label = "Sample Time (s)"

top = LinearAxis(x_range_name="proj", axis_label="Project Time (s)",
                 ticker=FixedTicker(ticks=TOP_TICKS, minor_ticks=list(range(8404, 8475, 2))),
                 formatter=NumeralTickFormatter(format="0,0"))
p.extra_x_ranges = {"proj": Range1d(PROJECT_OFFSET, PROJECT_OFFSET + X_END)}
p.add_layout(top, "above")

for ax, st in ((xax, 1), (top, 0)):
    ax.major_label_text_font = FONT
    ax.major_label_text_font_size = "12px"
    ax.major_label_text_color = "#444444"
    ax.major_tick_in, ax.major_tick_out = 5, 0
    ax.minor_tick_in, ax.minor_tick_out = 3, 0
    ax.major_label_standoff = 2
    ax.axis_label_text_font = FONT
    ax.axis_label_text_font_style = "bold"
    ax.axis_label_text_font_size = "16px" if ax is xax else "15px"
    ax.axis_label_text_color = "#222222"
    ax.axis_label_standoff = st
    ax.axis_line_color = "#444444"

p.xgrid.ticker = FixedTicker(ticks=X_TICKS)
p.xgrid.grid_line_color = "#e6e6e6"
p.ygrid.grid_line_color = "#e2e2e2"
p.ygrid.minor_grid_line_color = "#f1f1f1"

# ---------------- legend panel (two columns of colour boxes) ----------------
# (its drawing frame is aligned with the chart frame: page y 65..697)
lg = bare(LEG_W, BODY_H)
inv = lg.quad(left=[NAN], right=[NAN], top=[NAN], bottom=[NAN], fill_alpha=0, line_alpha=0)
swatch = {n: lg.quad(left=[NAN], right=[NAN], top=[NAN], bottom=[NAN], fill_color=COLORS[n],
                     line_color="#3a3a3a", line_width=1) for n in COL1 + COL2}

common = dict(spacing=0, glyph_width=23, glyph_height=21, label_height=21, label_standoff=6,
              label_text_font=FONT, label_text_font_size="13px", label_text_color="#333333")

BOX_LEFT, BOX_TOP, BOX_PAD, BOX_W = 632, 66, 10, 184
box_h = 21 * len(COL1) + 2 * BOX_PAD
frame_leg = Legend(items=[LegendItem(label=" ", renderers=[inv]) for _ in COL1],
                   location=(BOX_LEFT - MAIN_W, FRAME_BOTTOM_PAGE - (BOX_TOP + box_h)),
                   padding=BOX_PAD, label_width=BOX_W - 2 * BOX_PAD - 29,
                   border_line_color="#9a9a9a", border_line_width=1,
                   background_fill_color="white", background_fill_alpha=1.0, **common)
lg.add_layout(frame_leg)

ROW_TOP = BOX_TOP + BOX_PAD
for names, left in ((COL1, 636), (COL2, 735)):
    loc = (left - MAIN_W, FRAME_BOTTOM_PAGE - (ROW_TOP + 21 * len(names)))
    leg_a = Legend(items=[LegendItem(label=(" " if n in BOLD else n), renderers=[swatch[n]])
                          for n in names],
                   location=loc, padding=0, label_width=60, border_line_alpha=0,
                   background_fill_alpha=0, **common)
    leg_b = Legend(items=[LegendItem(label=(n if n in BOLD else " "), renderers=[inv])
                          for n in names],
                   location=loc, padding=0, label_width=60, border_line_alpha=0,
                   background_fill_alpha=0, label_text_font_style="bold", **common)
    lg.add_layout(leg_a)
    lg.add_layout(leg_b)

layout = column(header, row(p, lg))
open("out.html", "w").write(file_html(layout, INLINE))
